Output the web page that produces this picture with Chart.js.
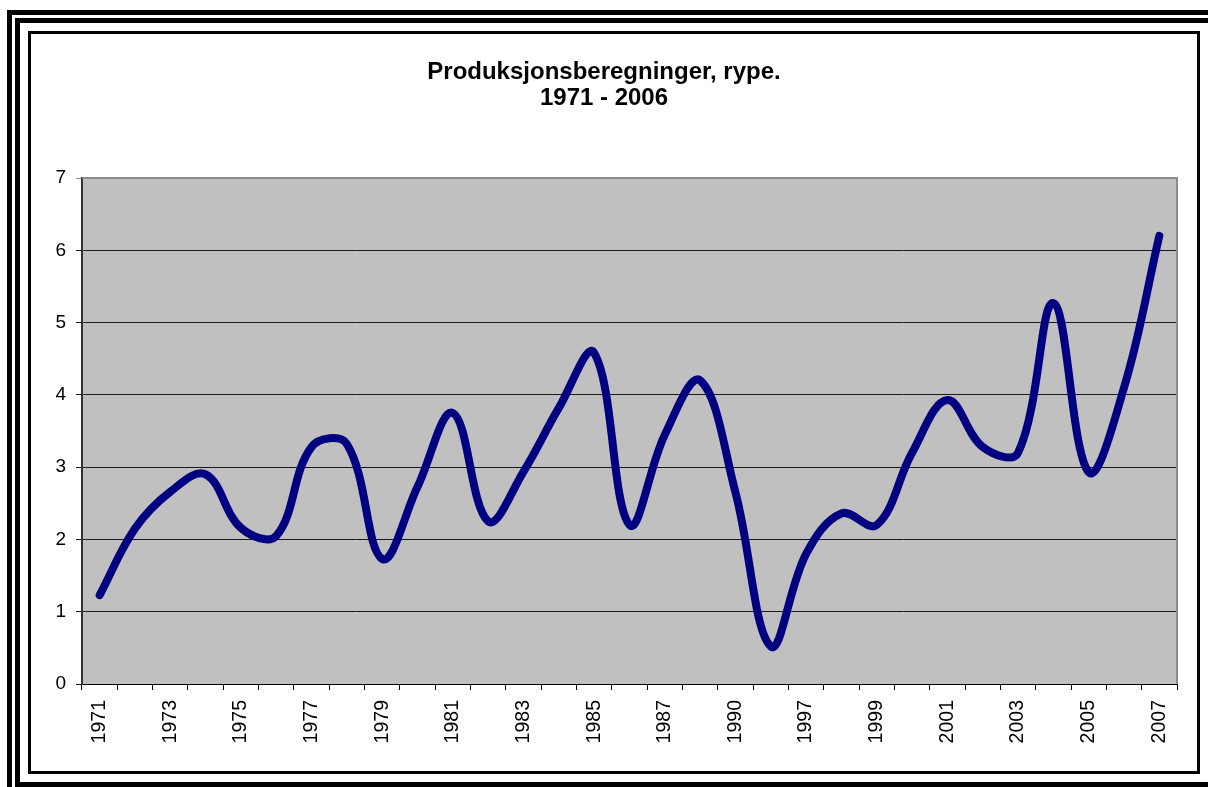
<!DOCTYPE html>
<html>
<head>
<meta charset="utf-8">
<script src="https://cdn.jsdelivr.net/npm/chart.js@4"></script>
<style>
  html, body { margin: 0; padding: 0; background: #fff; overflow: hidden; }
  body { width: 1208px; height: 787px; position: relative; }
  .ramme { position: absolute; border-style: solid; border-color: #000; box-sizing: border-box; }
  #ytre { left: 7px; top: 10px; width: 1220px; height: 800px; border-width: 5px; }
  #midt { left: 15px; top: 18px; width: 1210px; height: 769px; border-width: 5px; }
  #indre { left: 28px; top: 31px; width: 1172px; height: 743px; border-width: 3px; }
  #wrap { position: absolute; left: 31px; top: 34px; }
</style>
</head>
<body>
<div class="ramme" id="ytre"></div>
<div class="ramme" id="midt"></div>
<div class="ramme" id="indre"></div>
<div id="wrap"><canvas id="chartRype" width="1166" height="737"></canvas></div>
<script>
// år på x-aksen (hvert andre vises)
const aar = ['1971','1972','1973','1974','1975','1976','1977','1978','1979','1980',
             '1981','1982','1983','1984','1985','1986','1987','1988','1990','1996',
             '1997','1998','1999','2000','2001','2002','2003','2004','2005','2006','2007'];
// produksjon
const produksjon = [1.23, 2.15, 2.66, 2.9, 2.16, 2.05, 3.28, 3.32, 1.73, 2.73,
                    3.75, 2.25, 2.94, 3.82, 4.58, 2.2, 3.45, 4.2, 2.65, 0.52,
                    1.8, 2.36, 2.2, 3.2, 3.93, 3.28, 3.2, 5.27, 2.93, 4.1, 6.2];
const tittel = ['Produksjonsberegninger, rype.', '1971 - 2006'];

const FONT = 'Liberation Sans, Arial, sans-serif';

// grå bakgrunn i plottområdet + ramme topp/høyre
const plotBakgrunn = {
    id: 'plotBakgrunn',
    beforeDraw(chart) {
        const { ctx, chartArea: a } = chart;
        ctx.save();
        ctx.fillStyle = '#c0c0c0';
        ctx.fillRect(a.left, a.top, a.right - a.left, a.bottom - a.top);
        ctx.restore();
    },
    beforeDatasetsDraw(chart) {
        const { ctx, chartArea: a } = chart;
        ctx.save();
        ctx.strokeStyle = '#8c8c8c';
        ctx.lineWidth = 2;
        ctx.beginPath();
        ctx.moveTo(a.left, a.top);
        ctx.lineTo(a.right, a.top);
        ctx.lineTo(a.right, a.bottom);
        ctx.stroke();
        ctx.restore();
    }
};

new Chart(document.getElementById('chartRype'), {
    type: 'line',
    data: {
        labels: aar,
        datasets: [{
            data: produksjon,
            borderColor: '#000080',
            borderWidth: 8,
            pointRadius: 0,
            tension: 0.38,
            borderCapStyle: 'round',
            borderJoinStyle: 'round',
            fill: false
        }]
    },
    options: {
        responsive: false,
        animation: false,
        layout: { padding: { left: 0, right: 20, top: 0, bottom: 0 } },
        plugins: {
            legend: { display: false },
            tooltip: { enabled: false },
            title: {
                display: true,
                text: tittel,
                color: '#000',
                font: { family: FONT, size: 24, weight: 'bold', lineHeight: 1.085 },
                padding: { top: 25, bottom: 67 }
            }
        },
        scales: {
            x: {
                offset: true,
                grid: { offset: true, drawOnChartArea: false, drawTicks: true, tickLength: 6, color: '#000' },
                border: { color: '#000', width: 1 },
                ticks: {
                    autoSkip: false,
                    maxRotation: 90,
                    minRotation: 90,
                    padding: 10,
                    color: '#000',
                    font: { family: FONT, size: 19.5 },
                    callback: function(v, i) { return i % 2 === 0 ? aar[i] : ''; }
                },
                afterFit: function(s) { s.height = 87; }
            },
            y: {
                min: 0,
                max: 7,
                grid: {
                    color: function(c) { return c.tick && c.tick.value === 7 ? '#8c8c8c' : '#1a1a1a'; },
                    tickLength: 6,
                    lineWidth: 1
                },
                border: { color: '#333', width: 2 },
                ticks: {
                    stepSize: 1,
                    padding: 10,
                    color: '#000',
                    font: { family: FONT, size: 19 }
                },
                afterFit: function(s) { s.width = 51; }
            }
        }
    },
    plugins: [plotBakgrunn]
});
</script>
</body>
</html>
